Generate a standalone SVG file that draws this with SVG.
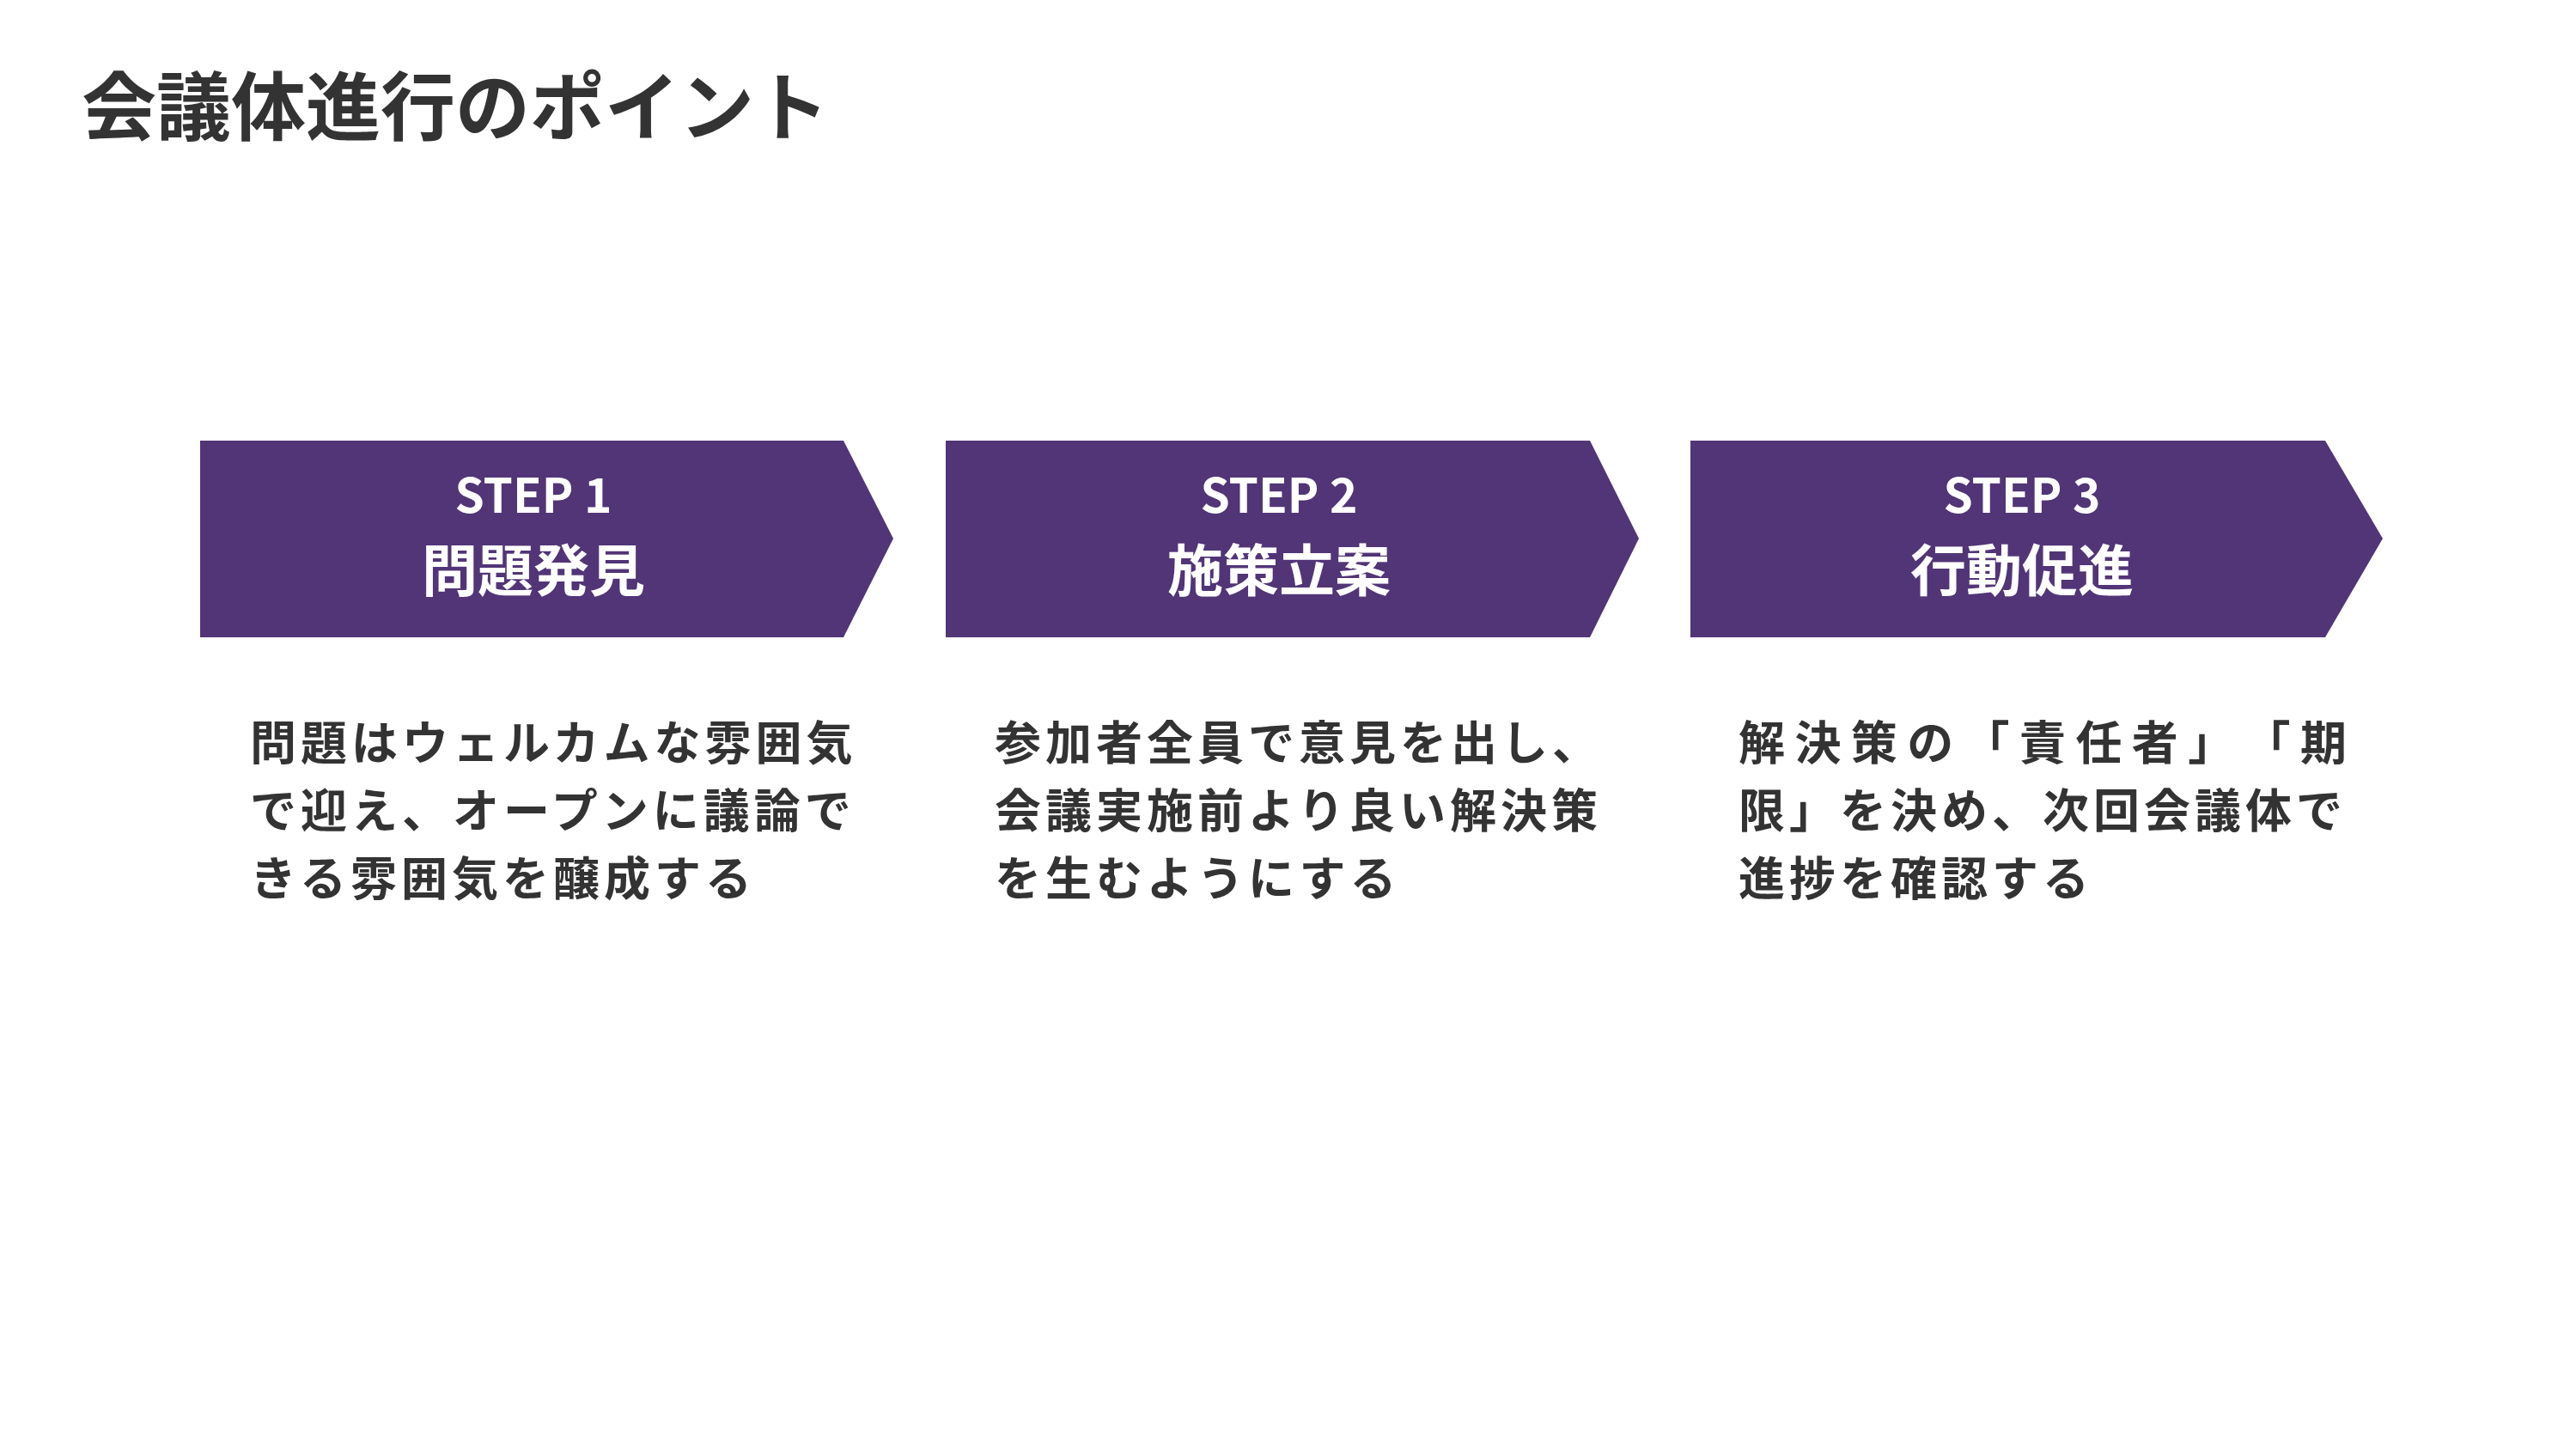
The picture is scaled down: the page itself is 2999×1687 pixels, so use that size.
<svg xmlns="http://www.w3.org/2000/svg" width="2999" height="1687" viewBox="0 0 2999 1687">
<style>
.title{font-family:"Noto Sans CJK JP","Noto Sans",sans-serif;font-weight:700;font-size:87px;fill:#333333}
.chev{fill:#513577}
.step{font-family:"Noto Sans CJK JP","Noto Sans",sans-serif;font-weight:700;font-size:55px;fill:#ffffff;text-anchor:middle}
.name{font-family:"Noto Sans CJK JP","Noto Sans",sans-serif;font-weight:700;font-size:65px;fill:#ffffff;text-anchor:middle}
.body{font-family:"Noto Sans CJK JP","Noto Sans",sans-serif;font-weight:700;font-size:54px;fill:#333333;letter-spacing:5px;text-spacing-trim:space-all}
</style>
<rect width="2999" height="1687" fill="#ffffff"/>
<text class="title" x="95" y="157">会議体進行のポイント</text>
<g id="step1">
<polygon class="chev" points="233,513 982,513 1040,627 982,742 233,742"/>
<text class="step" x="621" y="597">STEP 1</text>
<text class="name" x="621" y="688">問題発見</text>
</g>
<g id="step2">
<polygon class="chev" points="1101,513 1851,513 1908,627 1851,742 1101,742"/>
<text class="step" x="1489" y="597">STEP 2</text>
<text class="name" x="1489" y="688">施策立案</text>
</g>
<g id="step3">
<polygon class="chev" points="1968,513 2707,513 2774,627 2707,742 1968,742"/>
<text class="step" x="2354" y="597">STEP 3</text>
<text class="name" x="2354" y="688">行動促進</text>
</g>
<g id="desc1">
<text class="body" x="291" y="885">問題はウェルカムな雰囲気</text>
<text class="body" x="291" y="964">で迎え、オープンに議論で</text>
<text class="body" x="291" y="1043">きる雰囲気を醸成する</text>
</g>
<g id="desc2">
<text class="body" x="1158" y="885">参加者全員で意見を出し、</text>
<text class="body" x="1158" y="964">会議実施前より良い解決策</text>
<text class="body" x="1158" y="1043">を生むようにする</text>
</g>
<g id="desc3">
<text class="body" x="2024" y="885" textLength="708" lengthAdjust="spacing" style="letter-spacing:0">解決策の「責任者」「期</text>
<text class="body" x="2024" y="964">限」を決め、次回会議体で</text>
<text class="body" x="2024" y="1043">進捗を確認する</text>
</g>
<g id="connectors"></g>
</svg>
